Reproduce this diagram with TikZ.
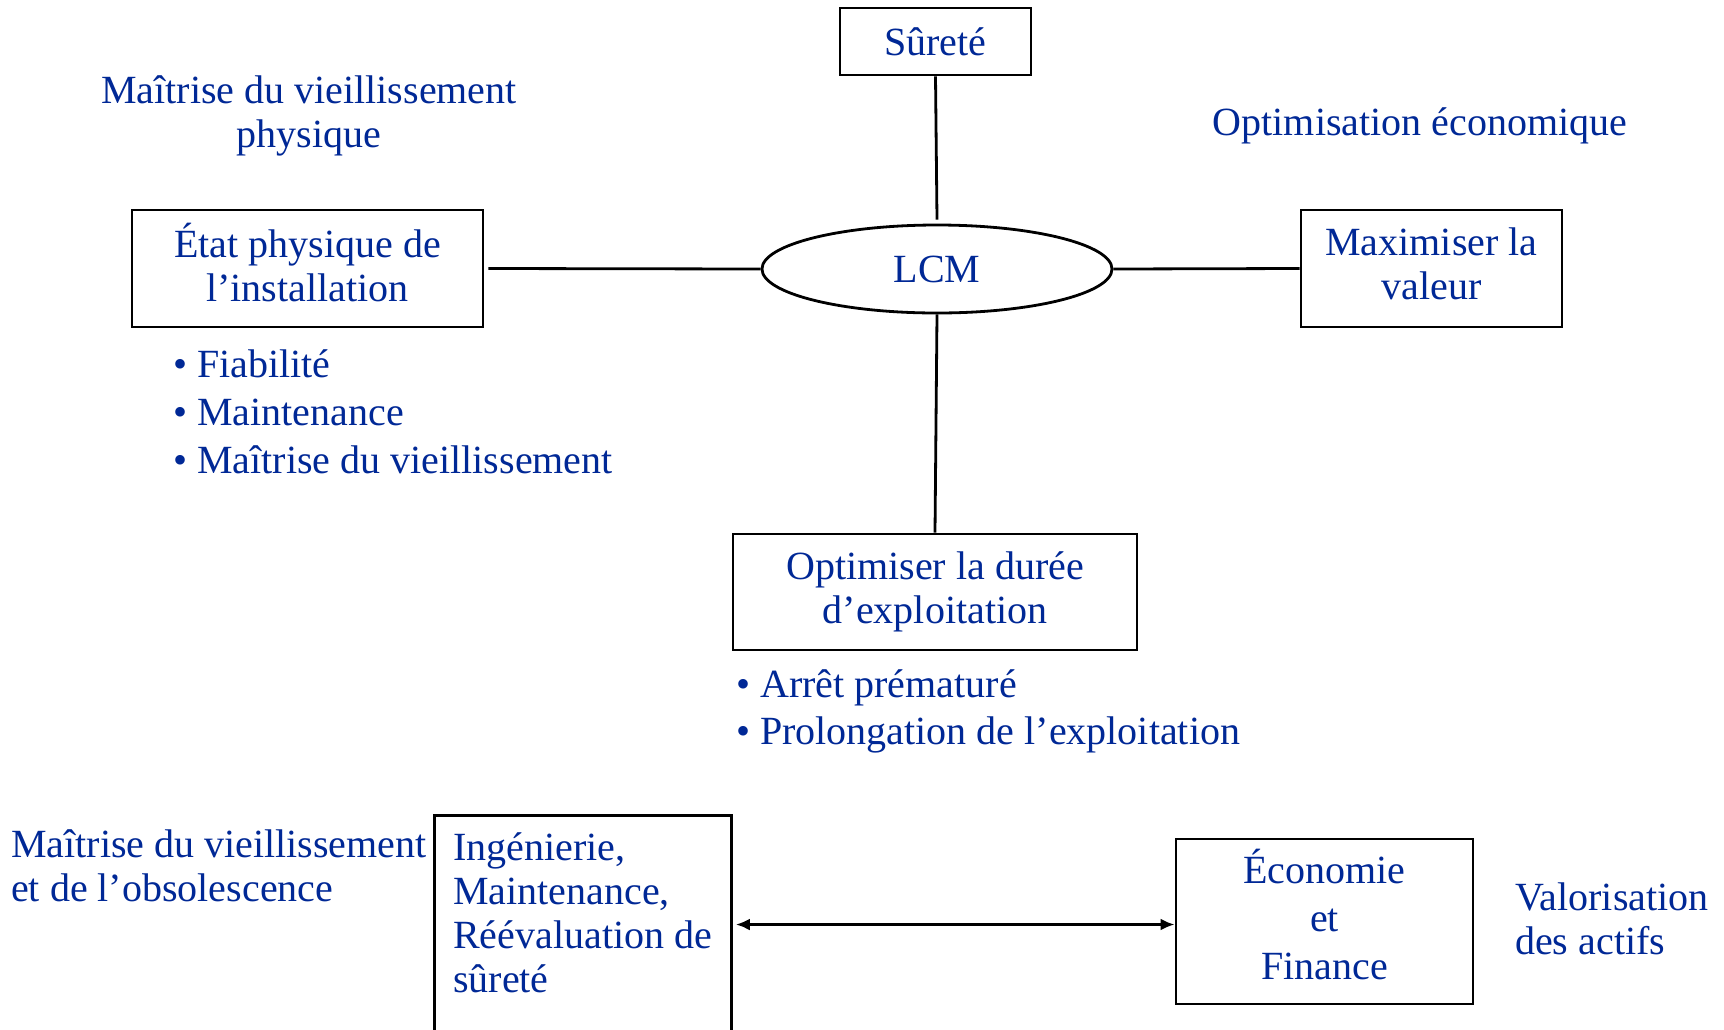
\documentclass[tikz,border=0pt]{standalone}
\usepackage{fontspec}
\setmainfont{Liberation Serif}
\usetikzlibrary{shapes.geometric,arrows.meta,calc}
\definecolor{txtblue}{RGB}{0,40,150}
\newcommand{\uplines}[2]{\raisebox{#1}{\begin{tabular}{@{}c@{}}#2\end{tabular}}}
\begin{document}
\begin{tikzpicture}[x=1pt,y=-1pt,
  every node/.style={font=\fontsize{40}{44}\selectfont, text=txtblue},
  box/.style={draw=black, line width=2.8pt, inner sep=0pt, align=center},
  conn/.style={line width=2.8pt, draw=black},
  lbl/.style={inner sep=0pt}]
\clip (0,0) rectangle (1724,1029);
\fill[white] (0,0) rectangle (1724,1029);

\node[box, minimum width=191pt, minimum height=67pt] (sur) at (935.5,41.5) {Sûreté};
\node[draw=black, ellipse, line width=2.8pt, minimum width=350pt, minimum height=88pt, inner sep=0pt] (lcm) at (937,269) {LCM};
\node[box, minimum width=351pt, minimum height=117pt] (etat) at (307.5,268.5) {\uplines{6pt}{État physique de\\l’installation}};
\node[box, minimum width=261pt, minimum height=117pt] (max) at (1431.5,268.5) {\uplines{4pt}{Maximiser la\\valeur}};
\node[box, minimum width=404pt, minimum height=116pt] (opt) at (935,592) {Optimiser la durée\\d’exploitation};
\node[box, minimum width=297pt, minimum height=231pt, anchor=north west] (ing) at (433,814) {};
\node[lbl, align=left, anchor=west] (ingt) at (453,913) {Ingénierie,\\Maintenance,\\Réévaluation de\\sûreté};
\node[box, minimum width=297pt, minimum height=165pt, font=\fontsize{40}{48}\selectfont] (eco) at (1324.5,921.5) {\uplines{6pt}{Économie\\et\\Finance}};

\node[lbl, align=center] (mvp) at (309,116) {Maîtrise du vieillissement\\physique};
\node[lbl] (oe) at (1420,126) {Optimisation économique};
\node[lbl, align=left, anchor=west, font=\fontsize{40}{48}\selectfont] (bul1) at (173,412) {• Fiabilité\\• Maintenance\\• Maîtrise du vieillissement};
\node[lbl, align=left, anchor=west, font=\fontsize{40}{47}\selectfont] (bul2) at (736,711) {• Arrêt prématuré\\• Prolongation de l’exploitation};
\node[lbl, align=left, anchor=west] (mvo) at (11,866) {Maîtrise du vieillissement\\et de l’obsolescence};
\node[lbl, align=left, anchor=west] (va) at (1515,919) {Valorisation\\des actifs};

\draw[conn] (sur.south) -- ([yshift=4pt]lcm.north);
\draw[conn] ([xshift=4pt]etat.east) -- (lcm.west);
\draw[conn] (lcm.east) -- (max.west);
\draw[conn] (lcm.south) -- (opt.north);
\draw[conn, {Latex[length=14pt,width=12pt]}-{Latex[length=14pt,width=12pt]}] ($(ing.east |- eco.west)+(3,3)$) -- ($(eco.west)+(0,3)$);
\end{tikzpicture}
\end{document}
